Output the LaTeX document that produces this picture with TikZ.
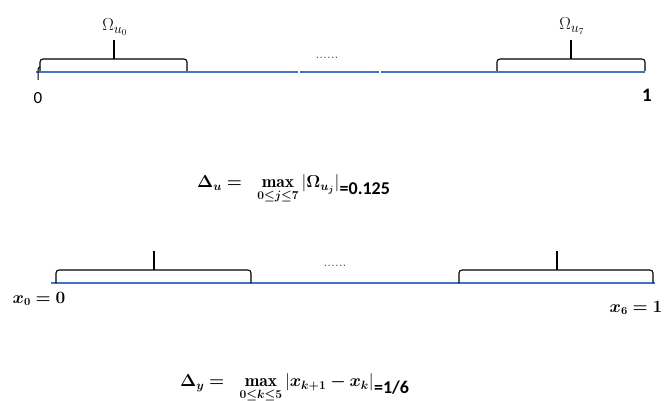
\documentclass[tikz,border=0pt]{standalone}
\usepackage{amsmath,bm}
\usepackage{fontspec}
\newfontfamily\calibri{Carlito}
\usetikzlibrary{positioning}
\definecolor{axisblue}{RGB}{68,114,196}

\begin{document}
\begin{tikzpicture}[x=1pt, y=-1pt,
    axis/.style={draw=axisblue, line width=1.4pt},
    brace/.style={draw=black, line width=1.1pt, rounded corners=3pt},
    num/.style={inner sep=0pt, font=\calibri\fontsize{17}{19}\selectfont},
    formula/.style={inner sep=0pt, font=\calibri\bfseries\fontsize{18}{20}\selectfont},
    mathlbl/.style={inner sep=0pt, font=\fontsize{17.5}{19}\selectfont},
    every node/.style={inner sep=0pt, font=\fontsize{19}{21}\selectfont}
]
\useasboundingbox (0,0) rectangle (664,401);

% Upper axis
\coordinate (a0) at (36,72);
\coordinate (a1) at (298,72);
\coordinate (a2) at (300,72);
\coordinate (a3) at (379,72);
\coordinate (a4) at (381,72);
\coordinate (a5) at (645,72);
\draw[axis] (a0) -- (a1);
\draw[axis] (a2) -- (a3);
\draw[axis] (a4) -- (a5);
\draw[line width=1pt] (38,80) -- (38,70) to[out=90,in=180] (40,67);

% Omega_u0
\draw[brace] (40,71) -- (40,59) -- (187,59) -- (187,71);
\draw[brace] (114,59) -- (114,40);
\node (om0) at (115,27) {$\Omega_{u_0}$};

% Omega_u7
\draw[brace] (497,71) -- (497,59) -- (645,59) -- (645,71);
\draw[brace] (571,59) -- (571,40);
\node (om7) at (572,26) {$\Omega_{u_7}$};

\node[text=black!75, font=\fontsize{14}{16}\selectfont] (dots1) at (327,58) {......};
\node[num] (zero) at (38,98) {0};
\node[num, font=\calibri\bfseries\fontsize{19}{21}\selectfont] (one) at (647,95) {1};

% Delta_u
\node[mathlbl, anchor=west] (du) at (197,189) {$\bm{\Delta_u} \bm{=}\ \ \underset{\bm{0\le j\le 7}}{\bm{\max}}\,|\bm{\Omega_{u_j}}|$};
\node[formula, anchor=west] (du2) at (du.east) {=0.125};

% Lower axis
\coordinate (b0) at (51,283);
\coordinate (b1) at (655,283);
\draw[axis] (b0) -- (b1);

\draw[brace] (56,283) -- (56,270) -- (251,270) -- (251,283);
\draw[brace] (154,270) -- (154,251);
\draw[brace] (459,283) -- (459,270) -- (653,270) -- (653,283);
\draw[brace] (557,270) -- (557,251);

\node[text=black!75, font=\fontsize{14}{16}\selectfont] (dots2) at (335,266) {......};
\node[mathlbl, font=\fontsize{16}{18}\selectfont] (x0) at (39,299) {$\bm{x_0=0}$};
\node[mathlbl, font=\fontsize{16}{18}\selectfont] (x6) at (636,308) {$\bm{x_6=1}$};

% Delta_y
\node[mathlbl, anchor=west] (dy) at (180,388) {$\bm{\Delta_y} \bm{=}\ \ \underset{\bm{0\le k\le 5}}{\bm{\max}}\,|\bm{x_{k+1}-x_k}|$};
\node[formula, anchor=west] (dy2) at (dy.east) {=1/6};
\end{tikzpicture}
\end{document}
